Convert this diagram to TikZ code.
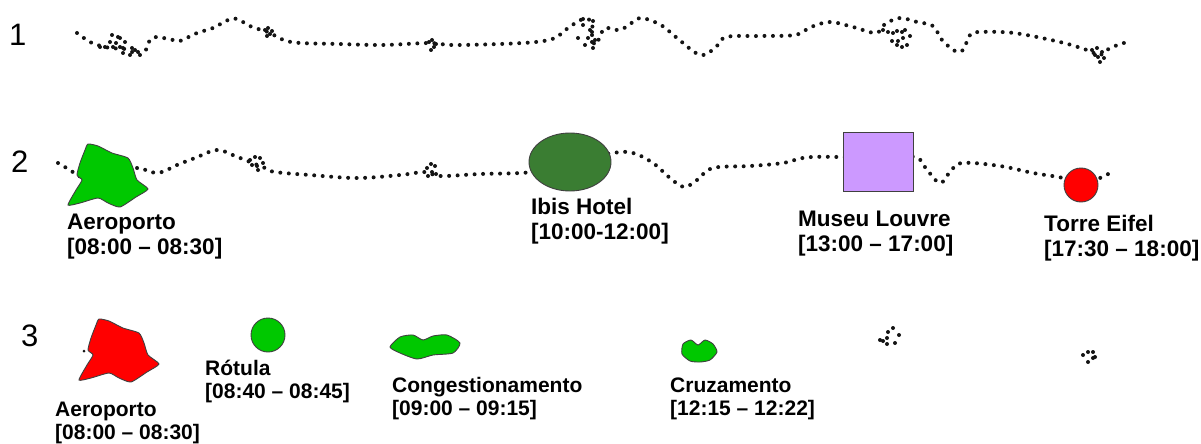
\documentclass[tikz,border=0pt]{standalone}
\usepackage{fontspec}
\setmainfont{Liberation Sans}
\usetikzlibrary{shapes.geometric}
\definecolor{blobgreen}{RGB}{0,200,0}
\definecolor{hotelgreen}{RGB}{58,125,50}
\definecolor{museumviolet}{RGB}{204,153,255}
\definecolor{towerred}{RGB}{255,0,0}
\colorlet{dotink}{black!92}

\begin{document}
\begin{tikzpicture}[x=1pt,y=-1pt,
  route/.style={line width=4pt, line cap=round, dash pattern=on 0pt off 8.5pt, dotink},
  outline/.style={draw=black!75, line width=0.9pt},
  lbl/.style={anchor=base west, inner sep=0pt, align=left, font=\bfseries\fontsize{22.5}{25}\selectfont},
  lblsmall/.style={lbl, font=\bfseries\fontsize{21}{23}\selectfont},
  rownum/.style={anchor=base west, inner sep=0pt, font=\fontsize{31}{31}\selectfont},
  airport/.pic={
    \path[outline, pic actions] plot[smooth cycle, tension=0.35] coordinates {
      (0,0) (10,2) (24,9) (40,14) (45,24) (49,36) (60,45) (48,53) (32,63)
      (20,59) (10,54) (-8,59) (-20,61) (-12,46) (-6,36) (-11,31) (-8,19) (-3,6)};
  },
]
\useasboundingbox (0,0) rectangle (1201,444);

% row numbers
\node[rownum] (n1) at (9,46) {1};
\node[rownum] (n2) at (11,172) {2};
\node[rownum] (n3) at (21,346) {3};

% ---------- row 1: raw trace ----------
\draw[route] plot[smooth, tension=0.55] coordinates {
  (77,33) (92,43) (110,48) (125,49) (140,55) (147,48) (150,40) (157,37)
  (173,40) (180,41) (197,33) (213,28) (228,20) (237,19) (252,27) (268,32)
  (291,42) (340,44) (383,45) (429,43) (452,45) (500,44) (536,42) (555,38)
  (568,28) (583,19) (592,22) (592,35) (595,45) (600,37) (605,28) (620,30)
  (633,22) (642,18) (661,25) (677,38) (700,55) (715,48) (726,37) (760,36)
  (795,35) (811,27) (830,22) (853,27) (876,33) (885,24) (900,18) (917,22)
  (933,26) (942,40) (955,51) (963,50) (970,35) (979,32) (1014,33)
  (1060,42) (1087,50) (1100,55) (1110,48) (1127,42)};
% knots where the trace stalls
\foreach \p in {(100,47),(105,47),(110,42),(112,35),(113,47),(118,37),(120,38),
                (120,47),(123,48),(125,42),(123,53),(130,55),(132,48),(135,50),
                (138,52),(116,43),
                (265,30),(268,28),(270,34),(272,31),(267,36),
                (429,42),(432,40),(434,47),(431,50),(436,44),
                (583,25),(590,30),(593,21),(592,32),(588,38),(578,38),(585,45),
                (592,42),(593,48),(595,40),(583,19),
                (883,30),(888,32),(893,33),(897,31),(902,32),(905,30),(910,36),
                (903,38),(898,41),(892,41),(897,45),(902,47),(907,45),
                (1092,50),(1097,48),(1102,52),(1098,57),(1104,58),(1100,62),(1095,55)}
  \fill[dotink] \p circle (2pt);

% ---------- row 2: trace with stops ----------
\draw[route] plot[smooth, tension=0.6] coordinates {
  (58,163) (70,170) (82,177) (110,178) (137,168) (150,172) (162,172)
  (177,165) (195,158) (217,150) (235,156) (250,162) (265,168) (275,172)
  (310,175) (357,178) (400,175) (425,172) (440,176) (480,174) (532,172)
  (570,162) (613,153) (633,153) (653,163) (670,178) (684,187) (697,180)
  (713,168) (750,166) (783,163) (812,157) (878,158) (915,157) (927,170)
  (940,183) (950,172) (962,163) (1000,166) (1033,173) (1063,178)
  (1081,185) (1100,178) (1110,173)};
\foreach \p in {(250,160),(255,157),(260,158),(263,163),(257,166),(252,165),(258,170),
                (427,168),(431,164),(435,166),(432,172),(428,176),(436,174)}
  \fill[dotink] \p circle (2pt);

\pic[fill=blobgreen] (airport2) at (88,144) {airport};
\node[ellipse, outline, fill=hotelgreen, minimum width=82pt, minimum height=58pt,
      inner sep=0pt] (ibis) at (570,162) {};
\node[rectangle, outline, fill=museumviolet, minimum width=70pt, minimum height=59pt,
      inner sep=0pt] (louvre) at (878,161.5) {};
\node[circle, outline, fill=towerred, minimum size=34pt, inner sep=0pt] (eifel) at (1081,185) {};

\node[lbl] (l-aero2)  at (67,254)   {Aeroporto\\{}[08:00 -- 08:30]};
\node[lbl] (l-ibis)   at (531,239)  {Ibis Hotel\\{}[10:00-12:00]};
\node[lbl] (l-louvre) at (798,251)  {Museu Louvre\\{}[13:00 -- 17:00]};
\node[lbl] (l-eifel)  at (1044,256) {Torre Eifel\\{}[17:30 -- 18:00]};

% ---------- row 3: detected events ----------
\pic[fill=towerred] (airport3) at (99,319) {airport};
\fill[dotink] (84,351) circle (1.5pt);
\node[circle, outline, fill=blobgreen, minimum size=34pt, inner sep=0pt] (rotula) at (268,335) {};
\path[outline, fill=blobgreen] plot[smooth cycle, tension=0.4] coordinates {
  (390,347) (400,337) (413,335) (423,340) (433,336) (447,335) (460,343)
  (453,353) (433,355) (417,359) (400,353)};
\path[outline, fill=blobgreen] plot[smooth cycle, tension=0.4] coordinates {
  (683,344) (691,340) (698,345) (705,340) (713,344) (717,352) (710,360)
  (700,362) (690,361) (682,354)};
\foreach \p in {(880,340),(883,341),(887,338),(888,332),(893,328),(899,335),(895,343),(887,344),
                (1083,355),(1088,352),(1093,352),(1095,357),(1088,362),(1093,358)}
  \fill[dotink] \p circle (2pt);

\node[lblsmall] (l-aero3)   at (55,439)  {Aeroporto\\{}[08:00 -- 08:30]};
\node[lblsmall] (l-rotula)  at (205,398) {Rótula\\{}[08:40 -- 08:45]};
\node[lblsmall] (l-congest) at (392,415) {Congestionamento\\{}[09:00 -- 09:15]};
\node[lblsmall] (l-cruz)    at (670,415) {Cruzamento\\{}[12:15 -- 12:22]};
\end{tikzpicture}
\end{document}
